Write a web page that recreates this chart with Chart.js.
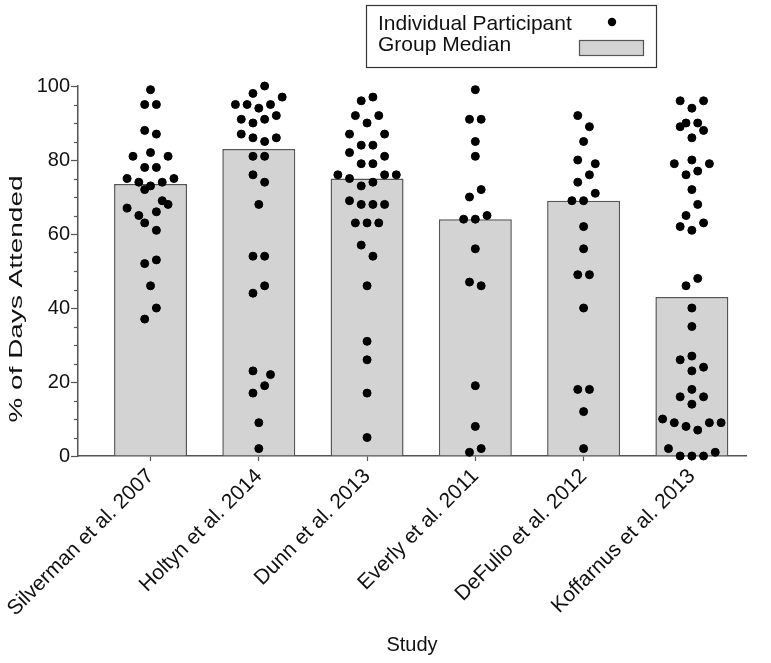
<!DOCTYPE html>
<html>
<head>
<meta charset="utf-8">
<script src="https://cdn.jsdelivr.net/npm/chart.js@4.4.1/dist/chart.umd.min.js"></script>
<style>
  html, body { margin: 0; padding: 0; background: #fff; }
  #wrap { width: 771px; height: 663px; }
</style>
</head>
<body>
<div id="wrap"><canvas id="chart" width="771" height="663"></canvas></div>
<script>
// Estudios (eje X) y mediana de cada grupo (barras)
const studies = ['Silverman et al. 2007', 'Holtyn et al. 2014', 'Dunn et al. 2013',
                 'Everly et al. 2011', 'DeFulio et al. 2012', 'Koffarnus et al. 2013'];
const groupMedians = [73.5, 83, 75, 64, 69, 43];

// % de días asistidos por participante, y su columna dentro del enjambre
const silverman = [99, 95, 95, 88, 87, 82, 81, 81, 78, 78, 75, 74, 73, 74, 75, 72, 69, 68, 67, 66, 65, 63, 61, 53, 52, 46, 40, 37];
const silvermanCol = [0, -1, 1, -1, 1, 0, -3, 3, -1, 1, -4, -2, 0, 2, 4, -1, 2, 3, -4, 1, -2, -1, 1, 1, -1, 0, 1, -1];

const holtyn = [100, 98, 97, 95, 95, 94, 95, 91, 90, 91, 92, 87, 86, 85, 86, 81, 81, 76, 74, 68, 54, 54, 46, 44, 23, 22, 19, 17, 9, 2];
const holtynCol = [1, -1, 4, -4, -2, 0, 2, -3, -1, 1, 3, -3, -1, 1, 3, -1, 1, -1, 1, 0, -1, 1, 1, -1, -1, 2, 1, -1, 0, 0];

const dunn = [97, 96, 92, 92, 90, 87, 87, 84, 84, 82, 81, 79, 79, 76, 75, 76, 76, 73, 74, 69, 68, 68, 68, 63, 63, 63, 57, 54, 46, 31, 26, 17, 5];
const dunnCol = [1, -1, -2, 2, 0, -3, 3, -1, 1, -3, 3, -1, 1, -5, -3, 3, 5, -1, 1, -3, -1, 1, 3, -2, 0, 2, -1, 1, 0, 0, 0, 0, 0];

const everly = [99, 91, 91, 85, 81, 72, 70, 65, 64, 64, 56, 47, 46, 19, 8, 2, 1];
const everlyCol = [0, -1, 1, 0, 0, 1, -1, 2, -2, 0, 0, -1, 1, 0, 0, 1, -1];

const defulio = [92, 89, 85, 80, 79, 76, 74, 71, 69, 69, 62, 56, 49, 49, 40, 18, 18, 12, 2];
const defulioCol = [-1, 1, 0, -1, 2, 1, -1, 2, -2, 0, 0, 0, -1, 1, 0, -1, 1, 0, 0];

const koffarnus = [96, 96, 94, 90, 89, 90, 88, 86, 79, 80, 79, 76, 77, 72, 68, 65, 62, 61, 63, 48, 46, 40, 35, 26, 27, 24, 23, 18, 16, 16, 14, 10, 9, 8, 7, 9, 9, 2, 0, 0, 0, 1];
const koffarnusCol = [-2, 2, 0, -1, -2, 1, 2, 0, -3, 0, 3, -1, 1, 0, 1, -1, -2, 0, 2, 1, -1, 0, 0, -2, 0, 2, 0, 0, -2, 2, 0, -5, -3, -1, 1, 3, 5, -4, -2, 0, 2, 4];

const participants = [silverman, holtyn, dunn, everly, defulio, koffarnus];
const columns = [silvermanCol, holtynCol, dunnCol, everlyCol, defulioCol, koffarnusCol];

// Ancho de una columna del enjambre, en unidades de categoría
const COL_STEP = 0.054;
const FONT = "'Liberation Sans', Arial, Helvetica, sans-serif";
const AXIS = '#555';
const INK = '#111';

// Puntos individuales: x = índice del estudio + desplazamiento del enjambre
const dotPoints = [];
participants.forEach((vals, i) => {
    vals.forEach((v, k) => dotPoints.push({ x: i + columns[i][k] * COL_STEP, y: v }));
});

// Dibuja las marcas menores del eje Y y el título vertical
const axisExtras = {
    id: 'axisExtras',
    afterDraw(chart) {
        const ctx = chart.ctx;
        const y = chart.scales.y;
        ctx.save();
        ctx.strokeStyle = AXIS;
        ctx.lineWidth = 1.2;
        for (let v = 5; v < 100; v += 5) {
            if (v % 20 === 0) continue;
            const py = Math.round(y.getPixelForValue(v)) + 0.5;
            ctx.beginPath();
            ctx.moveTo(y.right - 4, py);
            ctx.lineTo(y.right, py);
            ctx.stroke();
        }
        // El título del original es más alargado que el resto del texto
        const title = '% of Days Attended';
        ctx.translate(17, 299);
        ctx.rotate(-Math.PI / 2);
        ctx.font = `19px ${FONT}`;
        ctx.scale(247 / ctx.measureText(title).width, 1);
        ctx.fillStyle = INK;
        ctx.textAlign = 'center';
        ctx.textBaseline = 'middle';
        ctx.fillText(title, 0, 0);
        ctx.restore();
    }
};

// Leyenda con recuadro en la parte superior
const boxLegend = {
    id: 'boxLegend',
    afterDraw(chart) {
        const ctx = chart.ctx;
        const [bars, dots] = chart.data.datasets;
        ctx.save();
        ctx.strokeStyle = '#333';
        ctx.lineWidth = 1.2;
        ctx.strokeRect(366.5, 5.5, 290, 62);
        ctx.fillStyle = INK;
        ctx.font = `21px ${FONT}`;
        ctx.textBaseline = 'alphabetic';
        ctx.fillText(dots.label, 378, 30);
        ctx.fillText(bars.label, 378, 51);
        ctx.beginPath();
        ctx.arc(612, 22, 4.2, 0, Math.PI * 2);
        ctx.fillStyle = '#000';
        ctx.fill();
        ctx.fillStyle = bars.backgroundColor;
        ctx.fillRect(579, 40, 64, 15);
        ctx.strokeStyle = AXIS;
        ctx.strokeRect(579.5, 40.5, 64, 15);
        ctx.restore();
    }
};

new Chart(document.getElementById('chart'), {
    type: 'bar',
    data: {
        datasets: [
            {
                label: 'Group Median',
                data: groupMedians.map((m, i) => ({ x: i, y: m })),
                backgroundColor: '#d3d3d3',
                borderColor: AXIS,
                borderWidth: 1.5,
                borderSkipped: 'bottom',
                barPercentage: 0.674,
                categoryPercentage: 1,
                order: 2
            },
            {
                type: 'scatter',
                label: 'Individual Participant',
                data: dotPoints,
                backgroundColor: '#000',
                borderColor: '#000',
                pointRadius: 4,
                pointHoverRadius: 4,
                clip: false,
                order: 1
            }
        ]
    },
    options: {
        responsive: false,
        animation: false,
        devicePixelRatio: 1,
        layout: { padding: { top: 86, right: 25, left: 0, bottom: 0 } },
        plugins: {
            legend: { display: false },
            tooltip: { enabled: false }
        },
        scales: {
            x: {
                type: 'linear',
                offset: false,
                min: -0.67,
                max: 5.5,
                afterBuildTicks: s => { s.ticks = studies.map((_, i) => ({ value: i })); },
                afterFit: s => { s.height = 207; s.paddingLeft = 0; s.paddingRight = 0; },
                ticks: {
                    autoSkip: false,
                    minRotation: 45,
                    maxRotation: 45,
                    padding: 3,
                    color: INK,
                    font: { family: FONT, size: 21 },
                    callback: v => studies[v]
                },
                grid: { offset: false, drawOnChartArea: false, tickLength: 5, color: AXIS, tickWidth: 1.2 },
                border: { color: AXIS, width: 1.5 },
                title: {
                    display: true,
                    text: 'Study',
                    color: INK,
                    font: { family: FONT, size: 20 },
                    padding: { top: 0, bottom: 6 }
                }
            },
            y: {
                min: 0,
                max: 100,
                afterFit: s => { s.width = 78; s.paddingTop = 0; s.paddingBottom = 0; },
                ticks: {
                    stepSize: 5,
                    autoSkip: false,
                    padding: 1,
                    color: INK,
                    font: { family: FONT, size: 20 },
                    callback: v => (v % 20 === 0 ? v : '')
                },
                grid: {
                    drawOnChartArea: false,
                    tickLength: 7,
                    tickWidth: 1.2,
                    color: AXIS,
                    tickColor: c => (c.tick && c.tick.value % 20 === 0 ? AXIS : 'rgba(0,0,0,0)')
                },
                border: { color: AXIS, width: 1.5 }
            }
        }
    },
    plugins: [axisExtras, boxLegend]
});
</script>
</body>
</html>
